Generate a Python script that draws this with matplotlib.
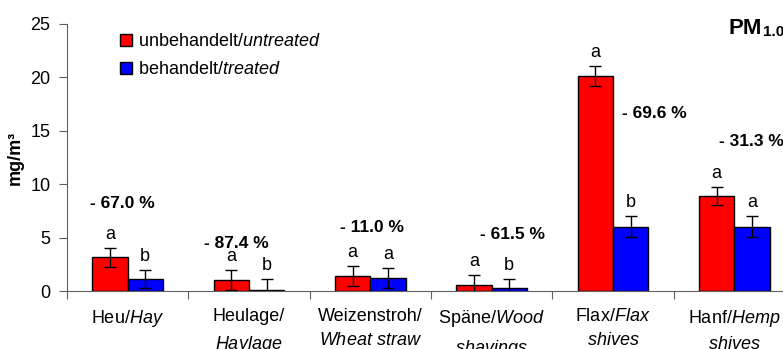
import numpy as np
import matplotlib
matplotlib.use('Agg')
import matplotlib.pyplot as plt

plt.rcParams['font.family'] = 'Liberation Sans'
plt.rcParams['mathtext.fontset'] = 'custom'
plt.rcParams['mathtext.rm'] = 'Liberation Sans'
plt.rcParams['mathtext.it'] = 'Liberation Sans:italic'
plt.rcParams['mathtext.bf'] = 'Liberation Sans:bold'

# data (mg/m3, PM1.0)
categories = ['Heu/$\\mathit{Hay}$', 'Heulage/\n$\\mathit{Haylage}$', 'Weizenstroh/\n$\\mathit{Wheat\\ straw}$',
              'Späne/$\\mathit{Wood}$\n$\\mathit{shavings}$', 'Flax/$\\mathit{Flax}$\n$\\mathit{shives}$',
              'Hanf/$\\mathit{Hemp}$\n$\\mathit{shives}$']
untreated = [3.15, 1.0, 1.4, 0.56, 20.13, 8.92]
untreated_err = [0.9, 0.95, 0.95, 0.97, 0.93, 0.85]
treated = [1.12, 0.1, 1.25, 0.3, 6.02, 6.02]
treated_err = [0.85, 1.0, 0.95, 0.8, 1.0, 1.0]
letters_untreated = ['a', 'a', 'a', 'a', 'a', 'a']
letters_treated = ['b', 'b', 'a', 'b', 'b', 'a']
reduction = ['- 67.0 %', '- 87.4 %', '- 11.0 %', '- 61.5 %', '- 69.6 %', '- 31.3 %']

# where the reduction labels sit (offset from group centre, height)
red_dx = [-0.04, -0.105, 0.01, 0.17, 0.34, 0.14]
red_y = [8.15, 4.45, 5.93, 5.3, 16.6, 14.0]

fig = plt.figure(figsize=(7.83, 3.49), dpi=100)
ax = fig.add_axes([67 / 783, 58 / 349, (795 - 67) / 783, (291 - 24) / 349])

n = len(categories)
centers = np.arange(n) + 0.5
w = 0.29

ax.bar(centers - w / 2, untreated, w, color='#ff0000', edgecolor='black', linewidth=1,
       label='unbehandelt/$\\mathit{untreated}$', zorder=2)
ax.bar(centers + w / 2, treated, w, color='#0000ff', edgecolor='black', linewidth=1,
       label='behandelt/$\\mathit{treated}$', zorder=2)
ax.errorbar(centers - w / 2, untreated, yerr=untreated_err, fmt='none', ecolor='black',
            elinewidth=1, capsize=4.5, capthick=1, zorder=3)
ax.errorbar(centers + w / 2, treated, yerr=treated_err, fmt='none', ecolor='black',
            elinewidth=1, capsize=4.5, capthick=1, zorder=3)

for i in range(n):
    ax.text(centers[i] - w / 2, untreated[i] + untreated_err[i] + 0.45, letters_untreated[i],
            ha='center', va='bottom', fontsize=13)
    ax.text(centers[i] + w / 2, treated[i] + treated_err[i] + 0.45, letters_treated[i],
            ha='center', va='bottom', fontsize=13)
    ax.text(centers[i] + red_dx[i], red_y[i], reduction[i], ha='center', va='center',
            fontsize=12.5, fontweight='bold')

ax.set_xlim(0, n)
ax.set_ylim(0, 25)
ax.set_yticks(np.arange(0, 26, 5))
ax.set_xticks(np.arange(0, n + 1))
ax.set_xticklabels([])
ax.set_xticks(centers, minor=True)
ax.set_xticklabels(categories, minor=True, fontsize=13, linespacing=1.6)
ax.tick_params(axis='x', which='minor', length=0, pad=12)
ax.tick_params(axis='x', which='major', length=6, direction='out', color='#606060')
ax.tick_params(axis='y', length=6, direction='out', color='#606060', labelsize=13, pad=6)
for s in ['top', 'right']:
    ax.spines[s].set_visible(False)
for s in ['left', 'bottom']:
    ax.spines[s].set_color('#606060')
ax.spines['bottom'].set_zorder(4)

ax.set_ylabel('mg/m³', fontsize=13, fontweight='bold', labelpad=5)
ax.patch.set_alpha(0)

leg = ax.legend(loc='upper left', bbox_to_anchor=(113 / 783, 1 - 26 / 349), bbox_transform=fig.transFigure,
                frameon=False, fontsize=13, handlelength=0.65, handleheight=0.65, handletextpad=0.35,
                labelspacing=0.6, borderaxespad=0)

fig.text(728 / 783, 1 - 29 / 349, 'PM', fontsize=16, fontweight='bold', ha='left', va='center')
fig.text(763 / 783, 1 - 32 / 349, '1.0', fontsize=11, fontweight='bold', ha='left', va='center')

fig.savefig('out.png', dpi=100)
